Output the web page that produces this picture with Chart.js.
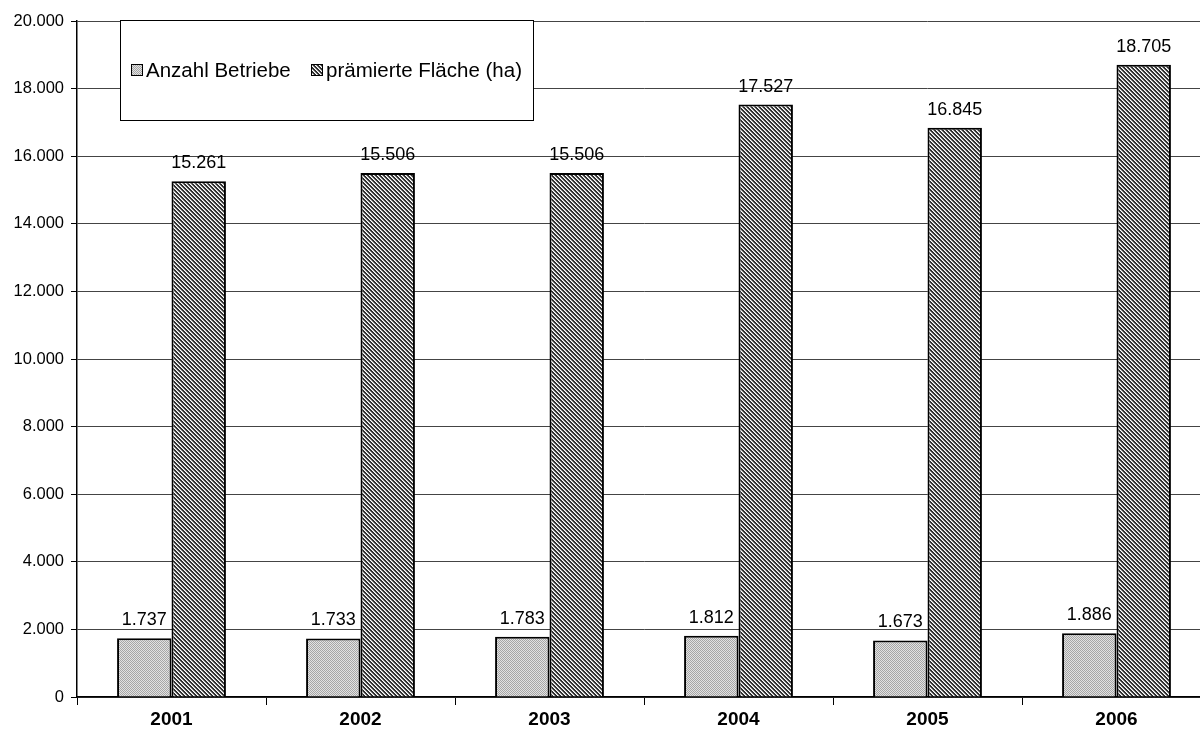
<!DOCTYPE html>
<html>
<head>
<meta charset="utf-8">
<script src="https://cdn.jsdelivr.net/npm/chart.js@4.4.0/dist/chart.umd.min.js"></script>
<style>
  html, body { margin: 0; padding: 0; background: #fff; overflow: hidden; }
  #wrap { width: 1212px; height: 735px; }
</style>
</head>
<body>
<div id="wrap"><canvas id="chart" width="1212" height="735"></canvas></div>
<script>
const years = ["2001", "2002", "2003", "2004", "2005", "2006"];
const betriebe = [1737, 1733, 1783, 1812, 1673, 1886];
const flaeche = [15261, 15506, 15506, 17527, 16845, 18705];
const seriesNames = ["Anzahl Betriebe", "prämierte Fläche (ha)"];

const FONT = "Arial, 'Liberation Sans', sans-serif";

// Muster für die Balken
function dotPattern() {
  const c = document.createElement("canvas");
  c.width = 2; c.height = 2;
  const g = c.getContext("2d");
  g.fillStyle = "#e2e2e2"; g.fillRect(0, 0, 2, 2);
  g.fillStyle = "#a6a6a6"; g.fillRect(0, 0, 1, 1); g.fillRect(1, 1, 1, 1);
  return g.createPattern(c, "repeat");
}
function hatchPattern() {
  const c = document.createElement("canvas");
  c.width = 4; c.height = 4;
  const g = c.getContext("2d");
  for (let r = 0; r < 4; r++) {
    for (let col = 0; col < 4; col++) {
      const k = (col - r + 4) % 4;
      g.fillStyle = k < 2 ? "#303030" : (k === 2 ? "#ffffff" : "#b0b0b0");
      g.fillRect(col, r, 1, 1);
    }
  }
  return g.createPattern(c, "repeat");
}
const fillA = dotPattern();
const fillB = hatchPattern();

const fmt = (v) => v.toLocaleString("de-DE");

// Werte über den Balken
const valueLabels = {
  id: "valueLabels",
  afterDatasetsDraw(chart) {
    const ctx = chart.ctx;
    ctx.save();
    ctx.font = "18px " + FONT;
    ctx.fillStyle = "#000";
    ctx.textAlign = "center";
    ctx.textBaseline = "alphabetic";
    chart.data.datasets.forEach((ds, i) => {
      chart.getDatasetMeta(i).data.forEach((bar, j) => {
        ctx.fillText(fmt(ds.data[j]), bar.x, bar.y - 13);
      });
    });
    ctx.restore();
  }
};

// Legende im Kasten oben links
const boxLegend = {
  id: "boxLegend",
  afterDraw(chart) {
    const ctx = chart.ctx;
    const x0 = 120, y0 = 20, w = 413, h = 100;
    ctx.save();
    ctx.fillStyle = "#fff";
    ctx.fillRect(x0, y0, w, h);
    ctx.strokeStyle = "#000";
    ctx.lineWidth = 1;
    ctx.strokeRect(x0 + 0.5, y0 + 0.5, w, h);
    ctx.font = "20.5px " + FONT;
    ctx.textBaseline = "middle";
    const items = [
      { x: 131, tx: 146, fill: fillA, text: seriesNames[0] },
      { x: 311, tx: 326, fill: fillB, text: seriesNames[1] }
    ];
    items.forEach((it) => {
      ctx.fillStyle = it.fill;
      ctx.fillRect(it.x, 64, 12, 12);
      ctx.strokeStyle = "#000";
      ctx.strokeRect(it.x + 0.5, 64.5, 11, 11);
      ctx.fillStyle = "#000";
      ctx.fillText(it.text, it.tx, 71);
    });
    ctx.restore();
  }
};

new Chart(document.getElementById("chart").getContext("2d"), {
  type: "bar",
  data: {
    labels: years,
    datasets: [
      { label: seriesNames[0], data: betriebe, backgroundColor: fillA, borderColor: "#000", borderWidth: 2 },
      { label: seriesNames[1], data: flaeche, backgroundColor: fillB, borderColor: "#000", borderWidth: 2 }
    ]
  },
  options: {
    responsive: false,
    animation: false,
    devicePixelRatio: 1,
    layout: { padding: { top: 21, right: 1, left: 0, bottom: 0 } },
    datasets: { bar: { categoryPercentage: 0.576, barPercentage: 1 } },
    plugins: { legend: { display: false }, tooltip: { enabled: false } },
    scales: {
      x: {
        afterFit(s) { s.height = 38; },
        grid: { offset: true, drawOnChartArea: false, tickLength: 8, color: "#000", tickColor: "#000" },
        border: { color: "#000", width: 1.5 },
        ticks: { color: "#000", padding: 3, font: { family: FONT, size: 19, weight: "bold" } }
      },
      y: {
        min: 0,
        max: 20000,
        afterFit(s) { s.width = 77; },
        grid: { color: "#444", tickLength: 6, tickColor: "#000" },
        border: { color: "#000", width: 1.5 },
        ticks: {
          stepSize: 2000,
          color: "#000",
          padding: 7,
          font: { family: FONT, size: 16.5 },
          callback: (v) => fmt(v)
        }
      }
    }
  },
  plugins: [valueLabels, boxLegend]
});
</script>
</body>
</html>
